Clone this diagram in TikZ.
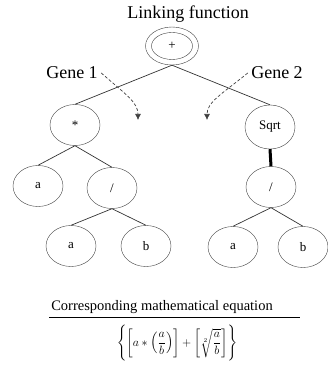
\documentclass[tikz,border=0pt]{standalone}
\usepackage{amsmath}
\usepackage{fontspec}
\setmainfont{Liberation Serif}
\usetikzlibrary{shapes,arrows.meta}
\tikzset{
	>={Latex[length=6pt,width=6pt]},
	opnode/.style={draw=black!75, ellipse, minimum width=50pt, minimum height=41pt, inner sep=0pt, font=\fontsize{13}{13}\selectfont},
	branch/.style={draw=black!80, line width=0.7pt},
	genearrow/.style={->, draw=black!75, dash pattern=on 3pt off 2pt, line width=0.7pt}
}

\begin{document}
\begin{tikzpicture}[x=1pt, y=-1pt]
	\useasboundingbox (0,0) rectangle (327,366);
	\node (title) at (188,14) {\fontsize{18}{18}\selectfont Linking function};
	% root with double ring
	\node [opnode, minimum width=53pt, minimum height=38pt] (rootring) at (172,46) {};
	\node [opnode, minimum width=41pt, minimum height=27pt] (root) at (172,46) {+};
	% gene 1
	\node [opnode] (mul) at (75,125) {*};
	\node [opnode] (a1) at (38,186) {a};
	\node [opnode] (div1) at (112,188) {/};
	\node [opnode] (a2) at (71,246) {a};
	\node [opnode] (b2) at (146,246) {b};
	% gene 2
	\node [opnode, minimum height=44pt] (sqrt) at (270,127) {Sqrt};
	\node [opnode] (div2) at (271,187) {/};
	\node [opnode] (a3) at (233,247) {a};
	\node [opnode] (b3) at (303,247) {b};
	\draw [branch] (rootring.south) -- (mul.north);
	\draw [branch] (rootring.south) -- (sqrt.north);
	\draw [branch] (mul.south) -- (a1.north);
	\draw [branch] (mul.south) -- (div1.north);
	\draw [branch] (div1.south) -- (a2.north);
	\draw [branch] (div1.south) -- (b2.north);
	\draw [branch, line width=3pt, draw=black] (sqrt.south) -- (div2.north);
	\draw [branch] (div2.south) -- (a3.north);
	\draw [branch] (div2.south) -- (b3.north);
	% gene labels
	\node [font=\fontsize{18}{18}\selectfont] (gene1) at (72,73) {Gene 1};
	\node [font=\fontsize{18}{18}\selectfont] (gene2) at (277,73) {Gene 2};
	\coordinate (tip1) at (138,120);
	\coordinate (tip2) at (207,120);
	\draw [genearrow] (gene1.east) .. controls (125,94) and (138,102) .. (tip1);
	\draw [genearrow] (gene2.west) .. controls (222,94) and (207,102) .. (tip2);
	% equation
	\node [inner sep=0pt] (caption) at (162,307) {\fontsize{14.5}{15}\selectfont Corresponding mathematical equation};
	\coordinate (rulel) at (49,317);
	\coordinate (ruler) at (300,317);
	\draw [line width=0.8pt] (rulel) -- (ruler);
	\node [inner sep=0pt] (eqn) at (177,343) {\fontsize{13}{14}\selectfont $\Biggl\{\biggl[a*\Bigl(\dfrac{a}{b}\Bigr)\biggr]+\biggl[\sqrt[2]{\dfrac{a}{b}}\biggr]\Biggr\}$};
\end{tikzpicture}
\end{document}
